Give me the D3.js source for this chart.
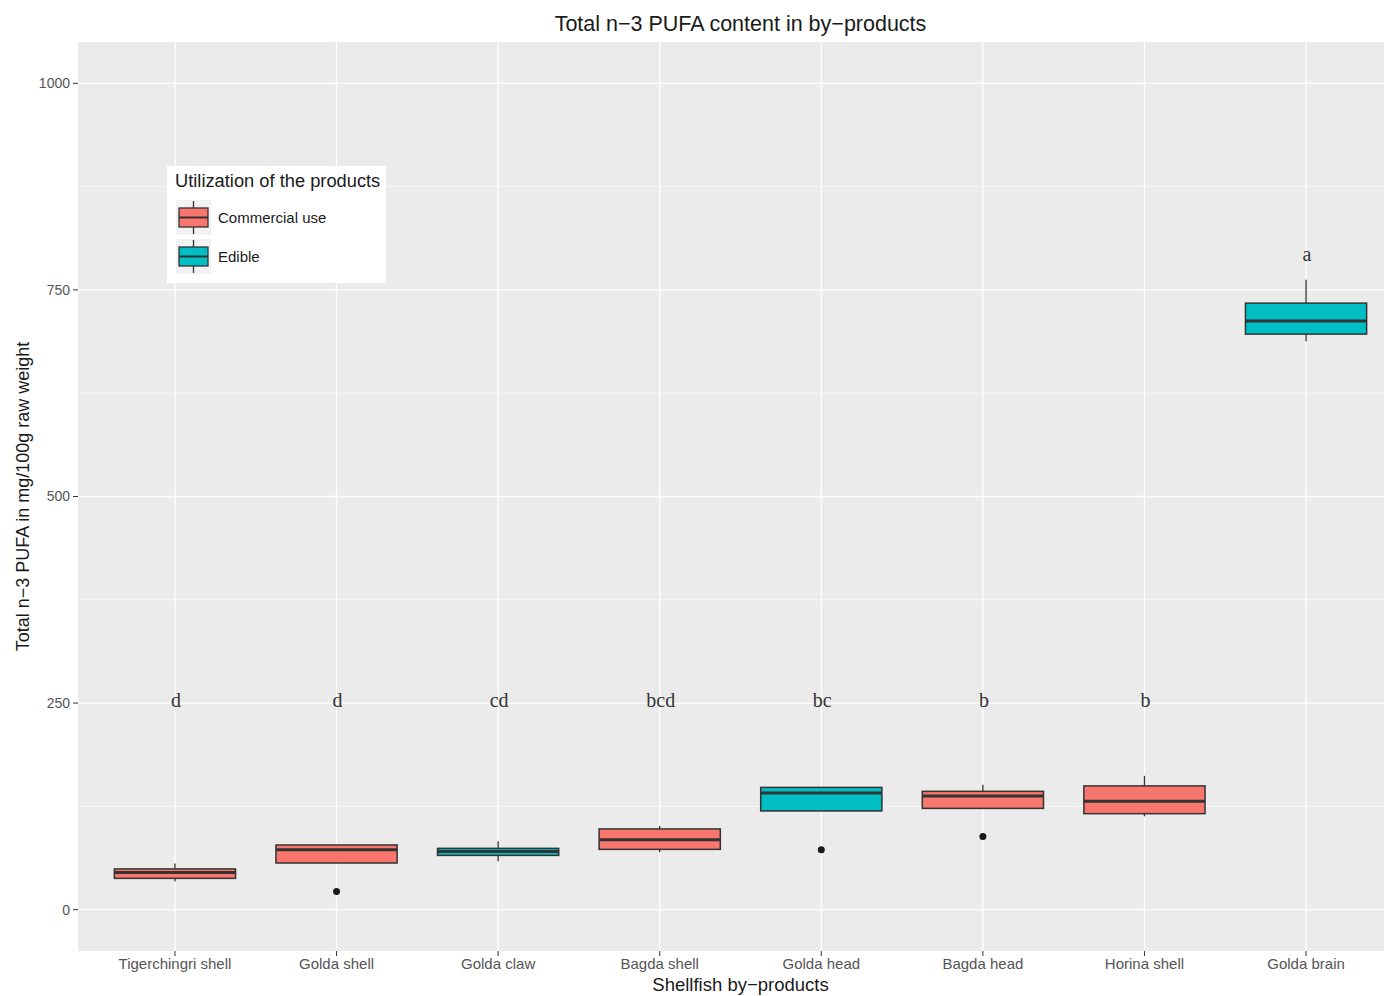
<!DOCTYPE html>
<html>
<head>
<meta charset="utf-8">
<script src="https://cdn.jsdelivr.net/npm/d3@7"></script>
<style>
  body { margin: 0; background: #fff; }
  svg { display: block; font-family: "Liberation Sans", Arial, sans-serif; }
</style>
</head>
<body>
<div id="chart"></div>
<script>
// data
const categories = ["Tigerchingri shell", "Golda shell", "Golda claw", "Bagda shell",
  "Golda head", "Bagda head", "Horina shell", "Golda brain"];
const groups = ["Commercial use", "Commercial use", "Edible", "Commercial use",
  "Edible", "Commercial use", "Commercial use", "Edible"];
const whiskerLow = [34, 56.5, 58.5, 69.5, 119.5, 122.6, 113, 688];
const q1Values = [37.9, 56.5, 65.7, 73, 119.5, 122.6, 116.2, 696.5];
const medians = [45, 72.6, 70.5, 84.7, 141.3, 137.6, 131.1, 712.3];
const q3Values = [49.3, 78.3, 74.2, 97.7, 148, 143.2, 149.8, 734];
const whiskerHigh = [56, 78.3, 82.7, 101.3, 148, 151.3, 162, 762.3];
const outliers = [[], [22], [], [], [72.6], [88.7], [], []];
const letters = ["d", "d", "cd", "bcd", "bc", "b", "b", "a"];
const letterY = [254, 254, 254, 254, 254, 254, 254, 794];
const yTicks = [0, 250, 500, 750, 1000];
const yMinorTicks = [125, 375, 625, 875];
const legendGroups = ["Commercial use", "Edible"];

const colors = { "Commercial use": "#F8766D", "Edible": "#00BFC4" };

const W = 1384, H = 996;
const panel = { left: 78, right: 1403, top: 42, bottom: 951 };

const svg = d3.select("#chart").append("svg")
  .attr("width", W)
  .attr("height", H);

// discrete x: ggplot style expansion (0.6 unit each side)
const x = d3.scalePoint()
  .domain(categories)
  .range([panel.left, panel.right])
  .padding(0.6);
const xc = name => x(name);
const boxW = x.step() * 0.75;

const y = d3.scaleLinear().domain([-50, 1050]).range([panel.bottom, panel.top]);

// panel background
svg.append("rect")
  .attr("x", panel.left).attr("y", panel.top)
  .attr("width", panel.right - panel.left).attr("height", panel.bottom - panel.top)
  .attr("fill", "#EBEBEB");

// grid lines
svg.selectAll(".minor")
  .data(yMinorTicks)
  .join("line")
  .attr("x1", panel.left).attr("x2", panel.right)
  .attr("y1", d => y(d)).attr("y2", d => y(d))
  .attr("stroke", "#fff").attr("stroke-width", 0.6);

svg.selectAll(".major")
  .data(yTicks)
  .join("line")
  .attr("x1", panel.left).attr("x2", panel.right)
  .attr("y1", d => y(d)).attr("y2", d => y(d))
  .attr("stroke", "#fff").attr("stroke-width", 1.3);

svg.selectAll(".vgrid")
  .data(categories)
  .join("line")
  .attr("x1", d => xc(d)).attr("x2", d => xc(d))
  .attr("y1", panel.top).attr("y2", panel.bottom)
  .attr("stroke", "#fff").attr("stroke-width", 1.3);

// y axis
svg.selectAll(".ytick")
  .data(yTicks)
  .join("line")
  .attr("x1", panel.left - 5).attr("x2", panel.left)
  .attr("y1", d => y(d)).attr("y2", d => y(d))
  .attr("stroke", "#333").attr("stroke-width", 1);

svg.selectAll(".ylab")
  .data(yTicks)
  .join("text")
  .attr("x", panel.left - 8)
  .attr("y", d => y(d))
  .attr("dy", "0.35em")
  .attr("text-anchor", "end")
  .style("font-size", "14px")
  .attr("fill", "#555")
  .text(d => d);

// x axis
svg.selectAll(".xtick")
  .data(categories)
  .join("line")
  .attr("x1", d => xc(d)).attr("x2", d => xc(d))
  .attr("y1", panel.bottom).attr("y2", panel.bottom + 5)
  .attr("stroke", "#333").attr("stroke-width", 1);

svg.selectAll(".xlab")
  .data(categories)
  .join("text")
  .attr("x", d => xc(d))
  .attr("y", panel.bottom + 18)
  .attr("text-anchor", "middle")
  .style("font-size", "15px")
  .attr("fill", "#555")
  .text(d => d);

// boxplots
const boxes = categories.map((c, i) => ({
  cat: c, group: groups[i], lo: whiskerLow[i], q1: q1Values[i], med: medians[i],
  q3: q3Values[i], hi: whiskerHigh[i], out: outliers[i]
}));

const g = svg.append("g");

g.selectAll(".whisker-hi")
  .data(boxes)
  .join("line")
  .attr("x1", d => xc(d.cat)).attr("x2", d => xc(d.cat))
  .attr("y1", d => y(d.q3)).attr("y2", d => y(d.hi))
  .attr("stroke", "#333").attr("stroke-width", 1.3);

g.selectAll(".whisker-lo")
  .data(boxes)
  .join("line")
  .attr("x1", d => xc(d.cat)).attr("x2", d => xc(d.cat))
  .attr("y1", d => y(d.q1)).attr("y2", d => y(d.lo))
  .attr("stroke", "#333").attr("stroke-width", 1.3);

g.selectAll(".box")
  .data(boxes)
  .join("rect")
  .attr("x", d => xc(d.cat) - boxW / 2)
  .attr("width", boxW)
  .attr("y", d => y(d.q3))
  .attr("height", d => y(d.q1) - y(d.q3))
  .attr("fill", d => colors[d.group])
  .attr("stroke", "#333").attr("stroke-width", 1.5);

g.selectAll(".median")
  .data(boxes)
  .join("line")
  .attr("x1", d => xc(d.cat) - boxW / 2).attr("x2", d => xc(d.cat) + boxW / 2)
  .attr("y1", d => y(d.med)).attr("y2", d => y(d.med))
  .attr("stroke", "#333").attr("stroke-width", 3);

g.selectAll(".outlier")
  .data(boxes.flatMap(d => d.out.map(v => ({ cat: d.cat, v }))))
  .join("circle")
  .attr("cx", d => xc(d.cat))
  .attr("cy", d => y(d.v))
  .attr("r", 3.5)
  .attr("fill", "#1a1a1a");

// significance letters
svg.selectAll(".letter")
  .data(categories)
  .join("text")
  .attr("x", d => xc(d) + 1)
  .attr("y", (d, i) => y(letterY[i]))
  .attr("dy", "0.35em")
  .attr("text-anchor", "middle")
  .style("font-family", "'Liberation Serif', 'DejaVu Serif', serif")
  .style("font-size", "20px")
  .attr("fill", "#333")
  .text((d, i) => letters[i]);

// titles
svg.append("text")
  .attr("x", (panel.left + panel.right) / 2)
  .attr("y", 31)
  .attr("text-anchor", "middle")
  .style("font-size", "21.5px")
  .attr("fill", "#1a1a1a")
  .text("Total n\u22123 PUFA content in by\u2212products");

svg.append("text")
  .attr("x", (panel.left + panel.right) / 2)
  .attr("y", 991)
  .attr("text-anchor", "middle")
  .style("font-size", "18.5px")
  .attr("fill", "#1a1a1a")
  .text("Shellfish by\u2212products");

svg.append("text")
  .attr("transform", `translate(29,${(y(0) + y(1000)) / 2}) rotate(-90)`)
  .attr("text-anchor", "middle")
  .style("font-size", "18px")
  .attr("fill", "#1a1a1a")
  .text("Total n\u22123 PUFA in mg/100g raw weight");

// legend
const legend = svg.append("g").attr("transform", "translate(167,166)");
legend.append("rect")
  .attr("width", 219).attr("height", 117)
  .attr("fill", "#fff");
legend.append("text")
  .attr("x", 8).attr("y", 21)
  .style("font-size", "18.3px")
  .attr("fill", "#1a1a1a")
  .text("Utilization of the products");

const keys = legend.selectAll(".key")
  .data(legendGroups)
  .join("g")
  .attr("transform", (d, i) => `translate(9,${34 + i * 39})`);
keys.append("rect")
  .attr("width", 35).attr("height", 35)
  .attr("fill", "#F2F2F2");
keys.append("line")
  .attr("x1", 17.5).attr("x2", 17.5).attr("y1", 1).attr("y2", 34)
  .attr("stroke", "#333").attr("stroke-width", 1.3);
keys.append("rect")
  .attr("x", 3).attr("y", 8).attr("width", 29).attr("height", 19)
  .attr("fill", d => colors[d])
  .attr("stroke", "#333").attr("stroke-width", 1.3);
keys.append("line")
  .attr("x1", 3).attr("x2", 32).attr("y1", 17.5).attr("y2", 17.5)
  .attr("stroke", "#333").attr("stroke-width", 2);
keys.append("text")
  .attr("x", 42).attr("y", 17.5)
  .attr("dy", "0.35em")
  .style("font-size", "15px")
  .attr("fill", "#1a1a1a")
  .text(d => d);
</script>
</body>
</html>
